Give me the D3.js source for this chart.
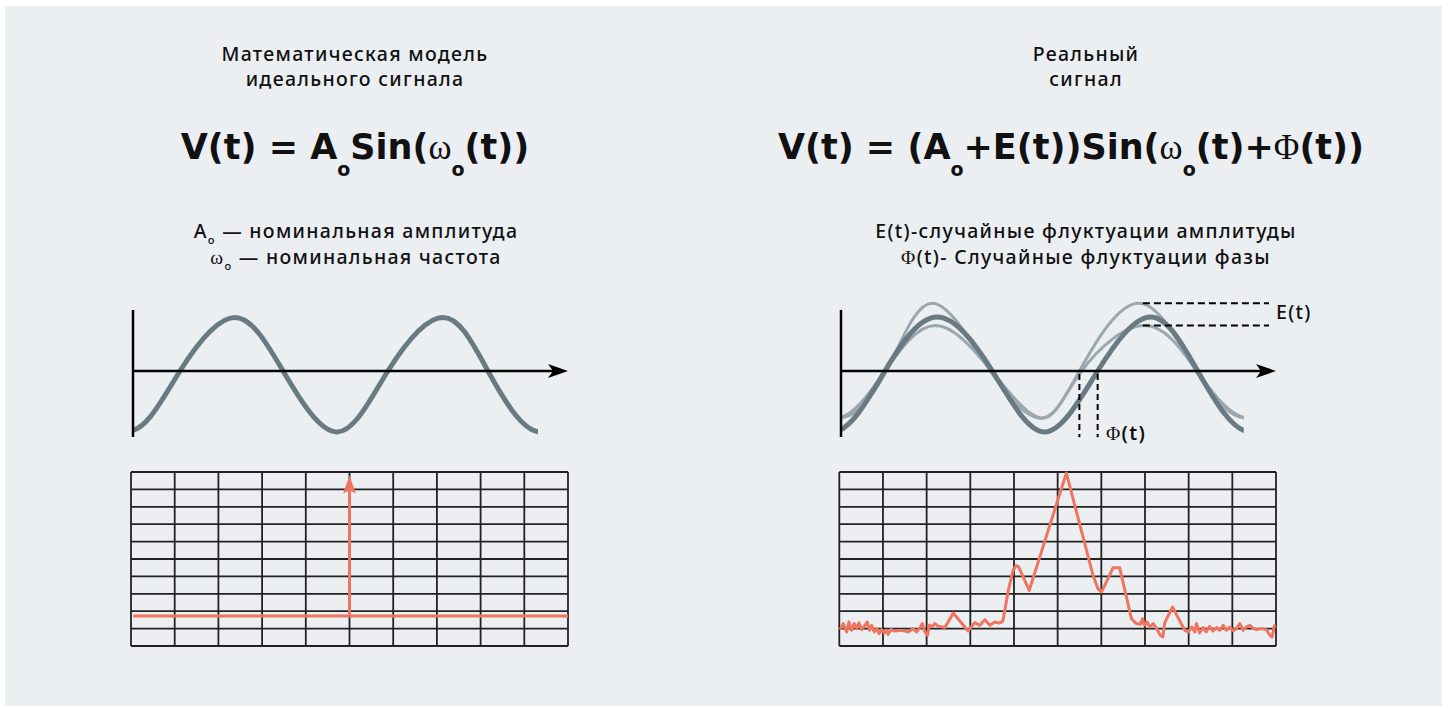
<!DOCTYPE html>
<html>
<head>
  <meta charset="utf-8">
  <title>Signal</title>
  <script src="https://cdn.jsdelivr.net/npm/d3@7"></script>
  <style>
    body { margin: 0; background: #fff; }
    svg { display: block; }
  </style>
</head>
<body>
<div id="chart"></div>
<script>
// ---- text ----
var titleLeft = ["Математическая модель", "идеального сигнала"];
var titleRight = ["Реальный", "сигнал"];
var formulaLeft = [["V(t) = A"], ["o", "sub"], ["Sin("], ["ω", "serif"], ["o", "sub"], ["(t))"]];
var formulaRight = [["V(t) = (A"], ["o", "sub"], ["+E(t))Sin("], ["ω", "serif"], ["o", "sub"], ["(t)+"], ["Φ", "serif"], ["(t))"]];
var notesLeft = [
  [["A"], ["o", "sub"], [" — номинальная амплитуда"]],
  [["ω", "serif"], ["o", "sub"], [" — номинальная частота"]]
];
var notesRight = [
  [["E(t)-случайные флуктуации амплитуды"]],
  [["Φ", "serif"], ["(t)- Случайные флуктуации фазы"]]
];

// ---- waves: [t, value], t in axis units (0..10), value in amplitude units ----
var idealWave = [[-1.26, 0], [-0.07, -1.04], [1.08, 0], [2.34, 0.93], [3.45, 0], [4.69, -1.06],
  [5.86, 0], [7.13, 0.93], [8.16, 0], [9.36, -1.06], [10.55, 0]];
var idealClip = [0.02, 9.31];

var realWave = [[-1.38, 0], [-0.18, -1.06], [1.01, 0], [2.21, 0.94], [3.48, 0], [4.68, -1.06],
  [5.9, 0], [7.12, 0.94], [8.2, 0], [9.4, -1.06], [10.6, 0]];
var upperWave = [[-1.3, 0], [-0.12, -0.82], [1.04, 0], [2.1, 1.18], [3.43, 0], [4.59, -0.82],
  [5.48, 0], [6.84, 1.18], [8.16, 0], [9.38, -0.82], [10.6, 0]];
var lowerWave = [[-1.3, 0], [-0.12, -0.82], [1.01, 0], [2.17, 0.79], [3.46, 0], [4.63, -0.82],
  [5.53, 0], [6.98, 0.79], [8.18, 0], [9.38, -0.82], [10.6, 0]];
var realClip = [0, 9.26];

var phiMarks = [5.48, 5.9];          // phase shift markers (t)
var phiDepth = -1.15;
var eMarks = [1.18, 0.79];           // amplitude markers (value)
var eSpan = [6.94, 9.84];

// ---- spectra: grid units 0..10 ----
var idealBase = 1.72;
var idealSpike = [5, 9.8];

var realSpectrum = [
  [0.02, 0.94], [0.09, 1.29], [0.17, 0.81], [0.22, 1.38], [0.28, 0.9], [0.34, 1.29], [0.40, 1.0],
  [0.45, 1.33], [0.51, 0.94], [0.59, 1.19], [0.64, 1.38], [0.69, 0.9], [0.74, 1.19], [0.80, 0.81],
  [0.86, 1.0], [0.91, 0.71], [0.97, 0.94], [1.03, 0.75], [1.08, 0.9], [1.12, 0.67], [1.18, 0.94],
  [1.27, 0.86], [1.43, 0.9], [1.58, 0.81], [1.69, 1.0], [1.77, 0.81], [1.85, 1.06], [1.90, 1.29],
  [1.96, 0.81], [2.02, 0.62], [2.06, 1.19], [2.13, 1.13], [2.19, 1.29], [2.27, 1.13], [2.42, 1.06],
  [2.61, 1.9], [2.95, 0.86], [3.10, 1.34], [3.22, 1.19], [3.33, 1.51], [3.45, 1.19], [3.56, 1.38],
  [3.66, 1.32], [3.72, 1.38], [3.75, 1.48], [3.87, 3.2], [3.98, 4.35], [4.05, 4.62], [4.10, 4.58],
  [4.35, 3.2], [5.2, 9.94], [5.81, 4.06], [5.92, 3.3], [6.0, 3.1], [6.1, 3.6], [6.27, 4.5],
  [6.42, 4.5], [6.54, 3.2], [6.69, 1.57], [6.8, 1.29], [6.9, 1.25], [6.94, 1.57], [6.99, 1.19],
  [7.05, 1.38], [7.11, 1.09], [7.19, 1.29], [7.28, 0.94], [7.35, 0.62], [7.41, 0.52], [7.45, 1.33],
  [7.63, 2.24], [7.91, 0.9], [7.99, 0.81], [8.07, 1.09], [8.14, 0.81], [8.18, 1.29], [8.25, 0.75],
  [8.33, 1.06], [8.4, 0.81], [8.48, 1.13], [8.56, 0.86], [8.64, 1.06], [8.71, 0.9], [8.79, 1.19],
  [8.86, 0.9], [8.94, 1.09], [9.02, 0.86], [9.09, 1.0], [9.17, 1.29], [9.25, 0.9], [9.32, 1.09],
  [9.4, 1.19], [9.48, 1.0], [9.55, 0.94], [9.66, 1.0], [9.78, 0.94], [9.86, 0.62], [9.91, 0.52],
  [9.97, 1.23]
];

var gridTicks = d3.range(0, 11);

// ---- styles ----
var sans = "'Noto Sans', sans-serif";
var bold = "'DejaVu Sans', sans-serif";
var serif = "'Liberation Serif', serif";
var red = "#ef7561";
var waveCol = "#6a7a83";
var waveLight = "#9ba7ae";

var svg = d3.select("#chart").append("svg")
  .attr("width", 1448).attr("height", 710);

svg.append("rect").attr("x", 5).attr("y", 6).attr("width", 1437).attr("height", 700)
  .attr("fill", "#ebeff2");

function richText(g, x, y, parts, o) {
  var t = g.append("text").attr("x", x).attr("y", y)
    .attr("text-anchor", o.anchor || "middle")
    .style("font-family", o.family || sans).style("font-size", o.size + "px")
    .style("font-weight", o.weight).style("letter-spacing", (o.spacing || 0) + "px")
    .attr("fill", "#111");
  var down = false;
  parts.forEach(function(p) {
    var s = t.append("tspan").text(p[0]);
    if (p[1] === "sub") {
      s.style("font-size", o.subSize + "px");
      if (!down) { s.attr("dy", o.subDy); down = true; }
    } else if (down) {
      s.attr("dy", -o.subDy); down = false;
    }
    if (p[1] === "serif") s.style("font-family", serif).style("font-weight", "normal");
  });
  return t;
}

var small = {size: 19.5, weight: 500, spacing: 1.3, subSize: 11, subDy: 6};

// titles
titleLeft.forEach(function(s, i) {
  richText(svg, 355, 61 + i * 25, [[s]], small);
});
titleRight.forEach(function(s, i) {
  richText(svg, 1086, 61 + i * 25, [[s]], small);
});

// formulas
var big = {size: 35, weight: 700, family: bold, subSize: 19, subDy: 17};
richText(svg, 355, 159, formulaLeft, big);
richText(svg, 1071, 159, formulaRight, big);

notesLeft.forEach(function(p, i) {
  richText(svg, 356, 238 + i * 26, p, small);
});
notesRight.forEach(function(p, i) {
  richText(svg, 1086, 238 + i * 26, p, small);
});

// ---- wave charts ----
var waveY = d3.scaleLinear().domain([-1, 1]).range([428.5, 313.5]);

function waveChart(id, x0, clip, waves) {
  var x = d3.scaleLinear().domain([0, 10]).range([x0, x0 + 435]);
  var g = svg.append("g");
  g.append("clipPath").attr("id", id).append("rect")
    .attr("x", x(clip[0])).attr("y", 280)
    .attr("width", x(clip[1]) - x(clip[0])).attr("height", 180);
  var line = d3.line().x(function(d) { return x(d[0]); }).y(function(d) { return waveY(d[1]); })
    .curve(d3.curveNatural);
  var cg = g.append("g").attr("clip-path", "url(#" + id + ")");
  waves.forEach(function(w) {
    cg.append("path").attr("d", line(w.data)).attr("fill", "none")
      .attr("stroke", w.color).attr("stroke-width", w.width);
  });
  // axes
  var y0 = waveY(0), tip = x(10);
  g.append("line").attr("x1", x(0)).attr("x2", tip - 8).attr("y1", y0).attr("y2", y0)
    .attr("stroke", "#000").attr("stroke-width", 2.5);
  g.append("line").attr("x1", x(0)).attr("x2", x(0)).attr("y1", 310).attr("y2", 437)
    .attr("stroke", "#000").attr("stroke-width", 2.5);
  g.append("path")
    .attr("d", "M" + tip + "," + y0 + "L" + (tip - 20) + "," + (y0 - 7) + "L" + (tip - 15) + "," + y0 +
      "L" + (tip - 20) + "," + (y0 + 7) + "Z")
    .attr("fill", "#000");
  return x;
}

waveChart("clipL", 133, idealClip, [{data: idealWave, color: waveCol, width: 5}]);
var xr = waveChart("clipR", 841, realClip, [
  {data: upperWave, color: waveLight, width: 3},
  {data: lowerWave, color: waveLight, width: 3},
  {data: realWave, color: waveCol, width: 5}
]);

// phase markers
svg.selectAll(".phi").data(phiMarks).enter().append("line")
  .attr("x1", function(d) { return xr(d); }).attr("x2", function(d) { return xr(d); })
  .attr("y1", waveY(0) + 3).attr("y2", waveY(phiDepth))
  .attr("stroke", "#000").attr("stroke-width", 2).attr("stroke-dasharray", "6,4");
richText(svg, 1106, 440, [["Φ", "serif"], ["(t)"]], {size: 19.5, weight: 600, spacing: 1.3, anchor: "start"});

// amplitude markers
svg.selectAll(".em").data(eMarks).enter().append("line")
  .attr("x1", xr(eSpan[0])).attr("x2", xr(eSpan[1]))
  .attr("y1", function(d) { return waveY(d); }).attr("y2", function(d) { return waveY(d); })
  .attr("stroke", "#000").attr("stroke-width", 2).attr("stroke-dasharray", "7,4");
richText(svg, 1276, 319, [["E(t)"]], {size: 19.5, weight: 500, spacing: 1.3, anchor: "start"});

// ---- spectrum grids ----
function grid(x0, x1) {
  var x = d3.scaleLinear().domain([0, 10]).range([x0, x1]);
  var y = d3.scaleLinear().domain([0, 10]).range([646, 472]);
  var g = svg.append("g");
  g.selectAll(".v").data(gridTicks).enter().append("line")
    .attr("x1", x).attr("x2", x).attr("y1", y(0)).attr("y2", y(10))
    .attr("stroke", "#222").attr("stroke-width", 1.8);
  g.selectAll(".h").data(gridTicks).enter().append("line")
    .attr("x1", x(0)).attr("x2", x(10)).attr("y1", y).attr("y2", y)
    .attr("stroke", "#222").attr("stroke-width", 1.8);
  return {x: x, y: y, g: g};
}

var gl = grid(131, 568);
gl.g.append("line").attr("x1", gl.x(0.05)).attr("x2", gl.x(10)).attr("y1", gl.y(idealBase)).attr("y2", gl.y(idealBase))
  .attr("stroke", red).attr("stroke-width", 3);
gl.g.append("line").attr("x1", gl.x(idealSpike[0])).attr("x2", gl.x(idealSpike[0]))
  .attr("y1", gl.y(idealBase)).attr("y2", gl.y(idealSpike[1]) + 12)
  .attr("stroke", red).attr("stroke-width", 3);
var sx = gl.x(idealSpike[0]), sy = gl.y(idealSpike[1]);
gl.g.append("path")
  .attr("d", "M" + sx + "," + sy + "L" + (sx - 6.5) + "," + (sy + 18) + "L" + sx + "," + (sy + 15) +
    "L" + (sx + 6.5) + "," + (sy + 18) + "Z")
  .attr("fill", red);

var gr = grid(839.3, 1276);
gr.g.append("path")
  .attr("d", d3.line().x(function(d) { return gr.x(d[0]); }).y(function(d) { return gr.y(d[1]); })(realSpectrum))
  .attr("fill", "none").attr("stroke", red).attr("stroke-width", 3).attr("stroke-linejoin", "round");
</script>
</body>
</html>
